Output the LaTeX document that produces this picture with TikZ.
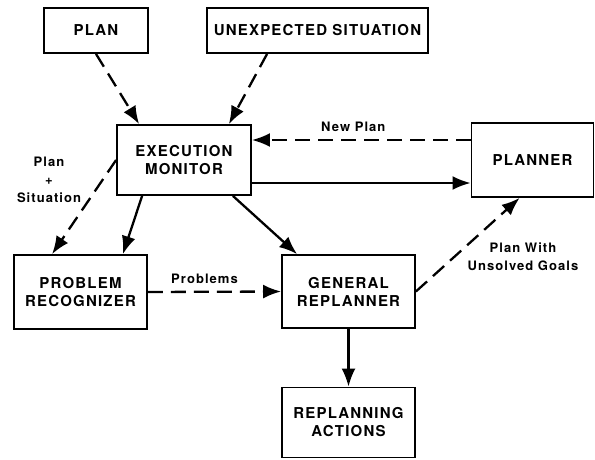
\documentclass[tikz,border=0pt]{standalone}
\usepackage{fontspec}
\setmainfont[LetterSpace=8]{TeX Gyre Heros}
\usetikzlibrary{arrows.meta,calc}

\tikzset{
  box/.style={draw, line width=1.8pt, align=center, font=\fontsize{15}{18}\selectfont\bfseries, inner sep=0pt},
  solidarrow/.style={line width=2.3pt, -{Latex[length=18pt,width=14pt]}},
  dasharrow/.style={solidarrow, dash pattern=on 15pt off 8pt},
  lbl/.style={font=\fontsize{13}{18}\selectfont\bfseries, align=center}
}

\begin{document}
\begin{tikzpicture}[x=1pt,y=-1pt]
        \useasboundingbox (0,0) rectangle (595,460);
        \node[box, minimum width=104pt, minimum height=45pt] (plan) at (96, 30.5) {PLAN};
        \node[box, minimum width=221pt, minimum height=45pt] (unexp) at (317.5, 30.5) {UNEXPECTED SITUATION};
        \node[box, minimum width=134pt, minimum height=70pt] (monitor) at (184, 160) {EXECUTION\\MONITOR};
        \node[box, minimum width=122pt, minimum height=74pt] (planner) at (532.5, 160) {PLANNER};
        \node[box, minimum width=133pt, minimum height=74pt] (recog) at (80.5, 292) {PROBLEM\\RECOGNIZER};
        \node[box, minimum width=133pt, minimum height=73pt] (replanner) at (348.5, 291.5) {GENERAL\\REPLANNER};
        \node[box, minimum width=133pt, minimum height=70pt] (actions) at (348.5, 422.5) {REPLANNING\\ACTIONS};
        % inputs of the monitor
        \draw[dasharrow] (plan.south) -- ($(monitor.north west)+(23,0)$);
        \draw[dasharrow] ($(unexp.south west)+(61,0)$) -- ($(monitor.north east)+(-23,0)$);
        % monitor and planner
        \draw[dasharrow] ($(planner.west)+(0,-20)$) -- node[lbl, above=4pt, xshift=-8pt] (newplan) {New Plan} ($(monitor.east)+(0,-20)$);
        \draw[solidarrow] ($(monitor.east)+(0,23)$) -- ($(planner.west)+(0,23)$);
        % monitor to the lower row
        \draw[dasharrow] (monitor.west) -- ($(recog.north west)+(39,0)$);
        \node[lbl] (plansit) at (49, 180) {Plan\\+\\Situation};
        \draw[solidarrow] ($(monitor.south west)+(26,0)$) -- ($(recog.north east)+(-25,0)$);
        \draw[solidarrow] ($(monitor.south east)+(-19,0)$) -- ($(replanner.north west)+(16,0)$);
        \draw[dasharrow] (recog.east) -- node[lbl, above=4pt, xshift=-10pt] (problems) {Problems} (replanner.west);
        \draw[dasharrow] (replanner.east) -- ($(planner.south west)+(49,0)$);
        \node[lbl] (unsolved) at (523, 257) {Plan With\\Unsolved Goals};
        \draw[solidarrow] (replanner.south) -- (actions.north);
      \end{tikzpicture}
\end{document}
